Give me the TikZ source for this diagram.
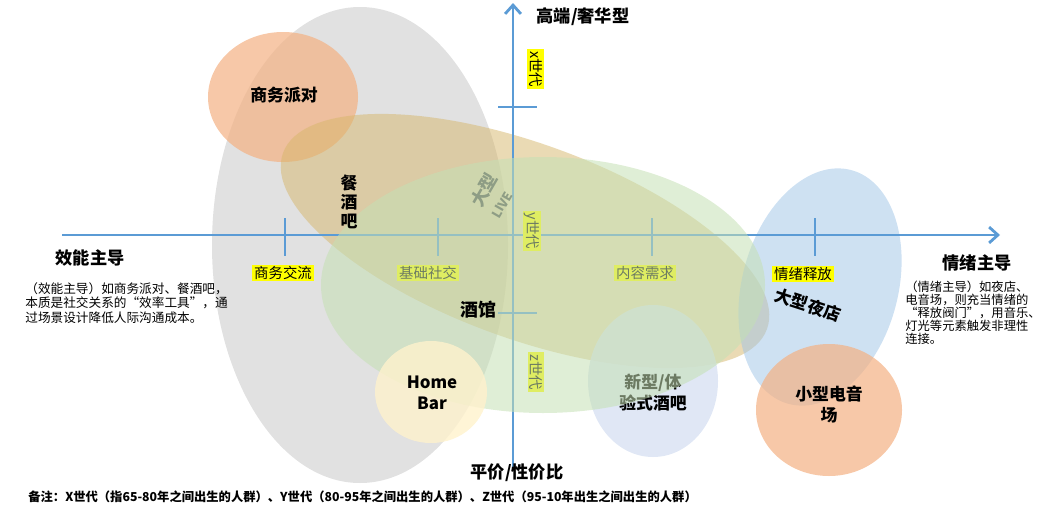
\documentclass[tikz,border=0pt]{standalone}
\usepackage{fontspec}
\setmainfont{Noto Sans CJK SC}
\usetikzlibrary{arrows.meta}

\definecolor{axisblue}{HTML}{5B9BD5}
\definecolor{zonegray}{HTML}{D9D9D9}
\definecolor{zoneorange}{HTML}{F4B183}
\definecolor{zonetan}{HTML}{D6B66A}
\definecolor{zonegreen}{HTML}{C5E0B4}
\definecolor{zoneblue}{HTML}{9DC3E6}
\definecolor{zonecream}{HTML}{FFF2CC}
\definecolor{zonesky}{HTML}{DAE3F3}
\definecolor{tagyellow}{HTML}{FFFF00}

\begin{document}
\begin{tikzpicture}[
    axisline/.style={line width=1.6pt, draw=axisblue, -{Straight Barb[length=5pt,width=9pt]}},
    tickline/.style={line width=1.6pt, draw=axisblue},
    tag/.style={fill=tagyellow, inner sep=1pt, font=\fontsize{8.2}{9}\selectfont},
    lbl/.style={font=\bfseries\fontsize{9.6}{12}\selectfont, align=center, inner sep=0pt},
    ttl/.style={font=\bfseries\fontsize{9.8}{12}\selectfont, inner sep=0pt},
    note/.style={font=\fontsize{7.2}{8.3}\selectfont, align=left, inner sep=0pt, anchor=north west}
]
\useasboundingbox (0,0) rectangle (21.08,-10.36);

% zones behind the axes
\fill[zonegray, fill opacity=0.8] (7.2,-4.9) ellipse [x radius=2.96, y radius=4.76];
\fill[zoneorange, fill opacity=0.7] (5.66,-1.94) ellipse [x radius=1.5, y radius=1.3];
\fill[zonetan, fill opacity=0.5, rotate around={-20:(10.5,-4.82)}] (10.5,-4.82) ellipse [x radius=5.15, y radius=1.95];
\fill[zoneblue, fill opacity=0.5, rotate around={-15:(16.4,-5.74)}] (16.4,-5.74) ellipse [x radius=1.56, y radius=2.42];
\fill[zonesky, fill opacity=0.85] (13.06,-7.62) ellipse [x radius=1.3, y radius=1.52];

% axes and ticks
\coordinate (xlo) at (1.24,-4.7);
\coordinate (xhi) at (20.0,-4.7);
\coordinate (ylo) at (10.26,-9.4);
\coordinate (yhi) at (10.26,-0.06);
\draw[axisline] (xlo) -- (xhi);
\draw[axisline] (ylo) -- (yhi);
\foreach \x in {5.7,8.76,13.04,16.3}
    \draw[tickline] (\x,-4.36) -- (\x,-5.12);
\foreach \y in {-2.14,-6.26}
    \draw[tickline] (9.96,\y) -- (10.74,\y);

% labels under the green zone
\node[tag] (social) at (8.56,-5.46) {基础社交};
\node[tag] (content) at (12.9,-5.46) {内容需求};
\node[tag, rotate=-90] (gen y) at (10.64,-4.62) {y世代};
\node[tag, rotate=-90] (gen z) at (10.72,-7.44) {z世代};
\node[lbl, text=black!70, rotate=60, font=\bfseries\fontsize{10}{12}\selectfont] (live) at (9.68,-3.8) {大型};
\node[lbl, text=black!70, rotate=60, font=\bfseries\fontsize{7.2}{9}\selectfont] (live tag) at (10.04,-4.1) {LIVE};
\node[lbl] (newbar) at (13.06,-7.85) {新型/体\\验式酒吧};

% zones above the axes
\fill[zonegreen, fill opacity=0.55] (10.86,-5.7) ellipse [x radius=4.44, y radius=2.56];
\fill[zonecream, fill opacity=0.8] (8.62,-7.84) ellipse [x radius=1.12, y radius=1.02];
\fill[zoneorange, fill opacity=0.7] (16.58,-8.2) ellipse [x radius=1.46, y radius=1.32];

% venue labels
\node[lbl] (party) at (5.68,-1.9) {商务派对};
\node[lbl, font=\bfseries\fontsize{9.6}{10.8}\selectfont] (bistro) at (6.98,-4.04) {餐\\酒\\吧};
\node[lbl, font=\bfseries\fontsize{10.2}{12}\selectfont] (tavern) at (9.56,-6.2) {酒馆};
\node[lbl] (homebar) at (8.64,-7.85) {Home\\Bar};
\node[lbl, rotate=-18] (club) at (16.16,-6.1) {大型夜店};
\node[lbl] (edm) at (16.58,-8.09) {小型电音\\场};

% axis tags
\node[tag] (business) at (5.66,-5.46) {商务交流};
\node[tag] (release) at (16.06,-5.48) {情绪释放};
\node[tag, rotate=-90] (gen x) at (10.71,-1.38) {x世代};

% axis titles and notes
\node[ttl] (high) at (11.66,-0.34) {高端/奢华型};
\node[ttl] (low) at (10.34,-9.46) {平价/性价比};
\node[ttl] (eff) at (1.8,-5.16) {效能主导};
\node[ttl] (emo) at (19.54,-5.26) {情绪主导};
\node[note] (effnote) at (0.5,-5.64) {（效能主导）如商务派对、餐酒吧，\\本质是社交关系的“效率工具”，通\\过场景设计降低人际沟通成本。};
\node[note, font=\fontsize{7}{7.4}\selectfont] (emonote) at (18.1,-5.62) {（情绪主导）如夜店、\\电音场，则充当情绪的\\“释放阀门”，用音乐、\\灯光等元素触发非理性\\连接。};
\node[note, anchor=west, font=\bfseries\fontsize{7}{8}\selectfont] (footnote) at (0.56,-9.94) {备注：X世代（指65-80年之间出生的人群）、Y世代（80-95年之间出生的人群）、Z世代（95-10年出生之间出生的人群）};
\end{tikzpicture}
\end{document}
